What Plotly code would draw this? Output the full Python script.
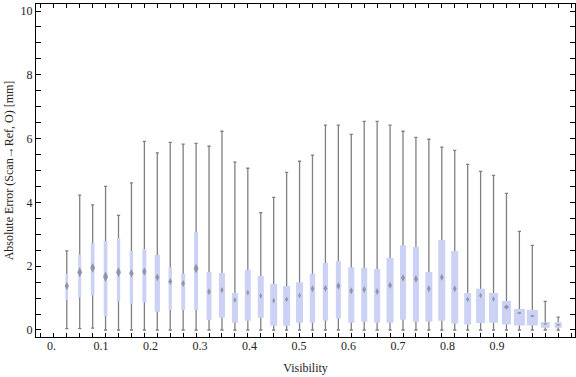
import plotly.graph_objects as go

# ---- data ----
visibility = [0.025, 0.05, 0.075, 0.1, 0.125, 0.15, 0.175, 0.2, 0.225, 0.25,
              0.275, 0.3, 0.325, 0.35, 0.375, 0.4, 0.425, 0.45, 0.475, 0.5,
              0.525, 0.55, 0.575, 0.6, 0.625, 0.65, 0.675, 0.7, 0.725, 0.75,
              0.775, 0.8, 0.825, 0.85, 0.875, 0.9, 0.925, 0.95, 0.975]
whisker_max = [2.48, 4.23, 3.92, 4.50, 3.59, 4.61, 5.91, 5.55, 5.88, 5.83,
               5.85, 5.76, 6.23, 5.26, 5.07, 3.68, 4.16, 4.94, 5.29, 5.48,
               6.42, 6.42, 6.13, 6.54, 6.54, 6.42, 6.23, 6.04, 5.98, 5.73,
               5.63, 5.19, 4.97, 4.85, 4.28, 3.09, 2.65, 0.90, 0.40]
q3 = [1.76, 2.37, 2.72, 2.79, 2.88, 2.48, 2.54, 2.35, 1.97, 1.76,
      3.07, 1.82, 1.79, 1.16, 1.88, 1.69, 1.44, 1.38, 1.50, 1.76,
      2.10, 2.16, 1.97, 1.94, 1.91, 2.26, 2.66, 2.60, 1.82, 2.82,
      2.48, 1.16, 1.29, 1.16, 0.91, 0.66, 0.63, 0.25, 0.25]
median = [1.38, 1.81, 1.95, 1.67, 1.81, 1.78, 1.83, 1.65, 1.52, 1.46,
          1.93, 1.20, 1.25, 0.94, 1.17, 1.07, 0.92, 0.96, 1.08, 1.29,
          1.31, 1.38, 1.23, 1.27, 1.21, 1.40, 1.63, 1.60, 1.29, 1.65,
          1.29, 0.96, 1.08, 0.97, 0.72, 0.53, 0.44, 0.19, 0.16]
q1 = [0.94, 1.02, 1.08, 0.42, 0.89, 0.82, 0.87, 0.57, 0.63, 0.63,
      0.63, 0.31, 0.38, 0.23, 0.29, 0.38, 0.13, 0.13, 0.23, 0.23,
      0.29, 0.36, 0.23, 0.26, 0.23, 0.23, 0.32, 0.26, 0.26, 0.29,
      0.20, 0.17, 0.22, 0.23, 0.17, 0.14, 0.14, 0.07, 0.07]
whisker_min = [0.04, 0.04, 0.06, 0, 0, 0, 0, 0, 0, 0,
               0, 0, 0, 0, 0, 0, 0, 0, 0, 0,
               0, 0, 0, 0, 0, 0, 0, 0, 0, 0,
               0, 0, 0, 0, 0, 0, 0, 0, 0]

x_labels = ["0.", "0.1", "0.2", "0.3", "0.4", "0.5", "0.6", "0.7", "0.8", "0.9"]
x_label_values = [0.0, 0.1, 0.2, 0.3, 0.4, 0.5, 0.6, 0.7, 0.8, 0.9]

# ---- styles ----
PX = 0.025 / 12.93          # data units per pixel along x
box_width_px = [2.7, 3, 3.7, 3.7, 3.3, 3.3, 4, 5.3, 3.3,
                4, 4, 5, 6, 6, 6, 6, 7, 7, 7,
                5.3, 5.3, 5, 6, 6, 6, 7, 6, 6, 7,
                7, 7, 7, 9, 9, 9, 11, 11, 9, 7]
median_size = [6, 7, 7, 7.5, 7, 6, 6, 5.5, 5, 5,
               7, 5, 4.5, 4, 4, 4, 4, 4, 4, 5,
               5, 5.5, 5, 5, 5, 5, 5.5, 5.5, 5, 5, 5, 4,
               4, 4, 4, 3.5, 3.5, 3, 3]
median_symbol = ["diamond-tall"] * 34 + ["diamond"] + ["diamond-wide"] * 4

BOX_COLOR = "#cbd2f5"
WHISKER_COLOR = "#808080"
FONT = "Liberation Serif, Times New Roman, serif"
TEXT = "#222222"

fig = go.Figure()

# whiskers (full range, gray) – drawn first, boxes cover the middle part
fig.add_trace(go.Box(
    x=visibility, q1=median, median=median, q3=median,
    lowerfence=whisker_min, upperfence=whisker_max,
    width=3.2 * PX, whiskerwidth=1,
    line=dict(color=WHISKER_COLOR, width=1.3),
    fillcolor="rgba(0,0,0,0)", boxpoints=False,
    hoverinfo="skip", showlegend=False))

# interquartile boxes
for v, a, m, b, w in zip(visibility, q1, median, q3, box_width_px):
    fig.add_trace(go.Box(
        x=[v], q1=[a], median=[m], q3=[b], lowerfence=[a], upperfence=[b],
        width=w * PX, line=dict(color=BOX_COLOR, width=0),
        fillcolor=BOX_COLOR, boxpoints=False, showlegend=False))

# median markers
fig.add_trace(go.Scatter(
    x=visibility, y=median, mode="markers",
    marker=dict(symbol=median_symbol, size=median_size,
                color="rgba(100,100,100,0.8)", line=dict(width=0)),
    showlegend=False))

# empty trace for the label axis
fig.add_trace(go.Scatter(x=[None], y=[None], xaxis="x2", showlegend=False,
                         hoverinfo="skip"))

xr = [-0.0345, 1.0075]
label_pos = [0.957 * v - 0.0045 for v in x_label_values]

fig.update_layout(
    width=576, height=377,
    margin=dict(l=36, r=1, t=4, b=40, autoexpand=False),
    paper_bgcolor="white", plot_bgcolor="white",
    boxmode="overlay",
    font=dict(family=FONT, size=12, color=TEXT),
    xaxis=dict(range=xr, tickmode="linear", tick0=0, dtick=0.025,
               ticks="inside", ticklen=4, tickwidth=1, tickcolor="black",
               showticklabels=False, showline=True, linecolor="black",
               linewidth=1, mirror="allticks", showgrid=False, zeroline=False,
               automargin=False),
    xaxis2=dict(range=xr, overlaying="x", anchor="y", side="bottom",
                tickmode="array", tickvals=label_pos, ticktext=x_labels,
                ticks="", showline=False, showgrid=False, zeroline=False,
                automargin=False,
                tickfont=dict(family=FONT, size=12, color=TEXT),
                title=dict(text="Visibility", standoff=11,
                           font=dict(family=FONT, size=12, color=TEXT))),
    yaxis=dict(range=[-0.22, 10.22], tickmode="linear", tick0=0, dtick=2,
               ticks="inside", ticklen=5, tickwidth=1, tickcolor="black",
               minor=dict(dtick=0.5, ticks="inside", ticklen=3,
                          tickcolor="black", tickwidth=1),
               showline=True, linecolor="black", linewidth=1,
               mirror="allticks", showgrid=False, zeroline=False,
               automargin=False,
               tickfont=dict(family=FONT, size=12, color=TEXT),
               title=dict(text="Absolute Error (Scan\u2192Ref, O) [mm]",
                          standoff=4,
                          font=dict(family=FONT, size=12, color=TEXT))),
)

fig.write_html("out.html",
               config={"displayModeBar": False},
               post_script="document.body.style.margin='0px';")
